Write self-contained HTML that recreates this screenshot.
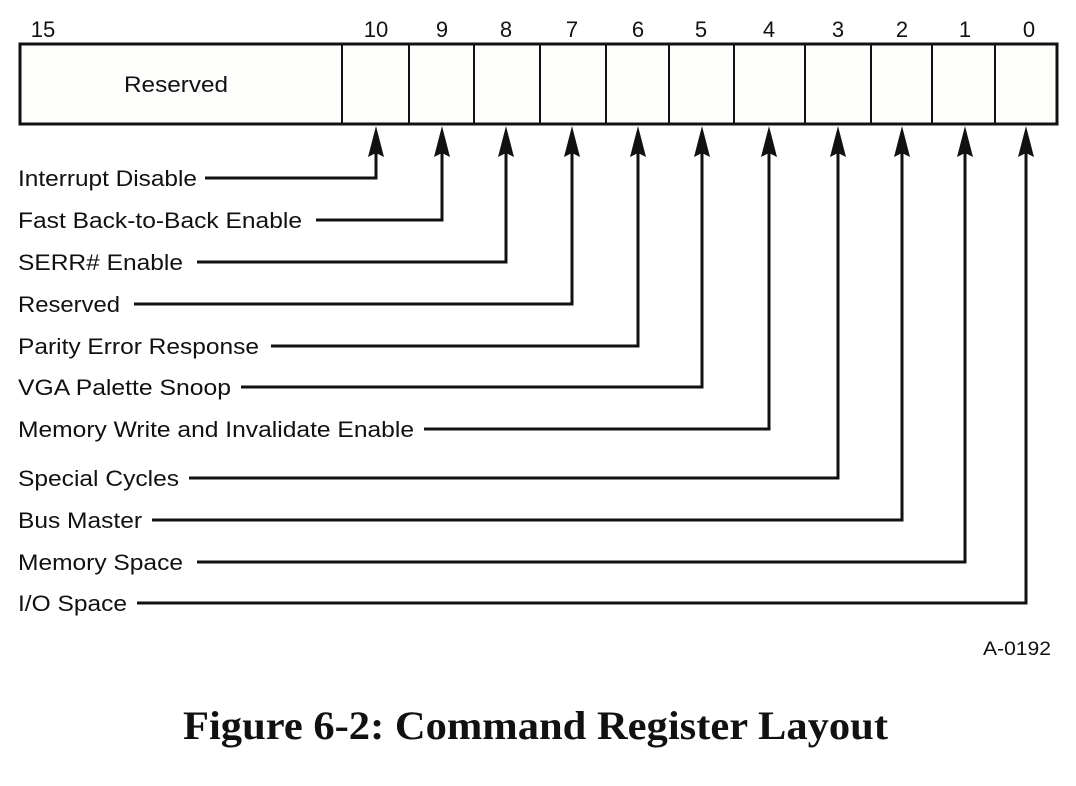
<!DOCTYPE html>
<html><head><meta charset="utf-8"><style>
body{margin:0;background:#fff;}
svg{display:block}
text{font-family:"Liberation Sans",sans-serif;font-size:22px;fill:#111}
</style></head><body>
<svg width="1076" height="786" viewBox="0 0 1076 786">
<rect x="20" y="44" width="1037" height="80" fill="#fdfdfb" stroke="#111" stroke-width="3"/>
<g stroke="#111" stroke-width="2">
<line x1="342" y1="44" x2="342" y2="124"/><line x1="409" y1="44" x2="409" y2="124"/>
<line x1="474" y1="44" x2="474" y2="124"/><line x1="540" y1="44" x2="540" y2="124"/>
<line x1="606" y1="44" x2="606" y2="124"/><line x1="669" y1="44" x2="669" y2="124"/>
<line x1="734" y1="44" x2="734" y2="124"/><line x1="805" y1="44" x2="805" y2="124"/>
<line x1="871" y1="44" x2="871" y2="124"/><line x1="932" y1="44" x2="932" y2="124"/>
<line x1="995" y1="44" x2="995" y2="124"/>
</g>
<text x="124" y="92" textLength="104" lengthAdjust="spacingAndGlyphs">Reserved</text>
<g text-anchor="middle">
<text x="43" y="37">15</text><text x="376" y="37">10</text><text x="442" y="37">9</text>
<text x="506" y="37">8</text><text x="572" y="37">7</text><text x="638" y="37">6</text>
<text x="701" y="37">5</text><text x="769" y="37">4</text><text x="838" y="37">3</text>
<text x="902" y="37">2</text><text x="965" y="37">1</text><text x="1029" y="37">0</text>
</g>
<g stroke="#111" stroke-width="3" fill="none">
<polyline points="205,178 376,178 376,150"/>
<polyline points="316,220 442,220 442,150"/>
<polyline points="197,262 506,262 506,150"/>
<polyline points="134,304 572,304 572,150"/>
<polyline points="271,346 638,346 638,150"/>
<polyline points="241,387 702,387 702,150"/>
<polyline points="424,429 769,429 769,150"/>
<polyline points="189,478 838,478 838,150"/>
<polyline points="152,520 902,520 902,150"/>
<polyline points="197,562 965,562 965,150"/>
<polyline points="137,603 1026,603 1026,150"/>
</g>
<g fill="#111">
<polygon points="376,126 368,157 376,153 384,157"/>
<polygon points="442,126 434,157 442,153 450,157"/>
<polygon points="506,126 498,157 506,153 514,157"/>
<polygon points="572,126 564,157 572,153 580,157"/>
<polygon points="638,126 630,157 638,153 646,157"/>
<polygon points="702,126 694,157 702,153 710,157"/>
<polygon points="769,126 761,157 769,153 777,157"/>
<polygon points="838,126 830,157 838,153 846,157"/>
<polygon points="902,126 894,157 902,153 910,157"/>
<polygon points="965,126 957,157 965,153 973,157"/>
<polygon points="1026,126 1018,157 1026,153 1034,157"/>
</g>
<g style="" >
<text x="18" y="186" textLength="179" lengthAdjust="spacingAndGlyphs">Interrupt Disable</text>
<text x="18" y="228" textLength="284" lengthAdjust="spacingAndGlyphs">Fast Back-to-Back Enable</text>
<text x="18" y="270" textLength="165" lengthAdjust="spacingAndGlyphs">SERR# Enable</text>
<text x="18" y="312" textLength="102" lengthAdjust="spacingAndGlyphs">Reserved</text>
<text x="18" y="354" textLength="241" lengthAdjust="spacingAndGlyphs">Parity Error Response</text>
<text x="18" y="395" textLength="213" lengthAdjust="spacingAndGlyphs">VGA Palette Snoop</text>
<text x="18" y="437" textLength="396" lengthAdjust="spacingAndGlyphs">Memory Write and Invalidate Enable</text>
<text x="18" y="486" textLength="161" lengthAdjust="spacingAndGlyphs">Special Cycles</text>
<text x="18" y="528" textLength="124" lengthAdjust="spacingAndGlyphs">Bus Master</text>
<text x="18" y="570" textLength="165" lengthAdjust="spacingAndGlyphs">Memory Space</text>
<text x="18" y="611" textLength="109" lengthAdjust="spacingAndGlyphs">I/O Space</text>
</g>
<text x="983" y="655" textLength="68" lengthAdjust="spacingAndGlyphs" style="font-size:19px">A-0192</text>
<text x="183" y="739" textLength="705" lengthAdjust="spacingAndGlyphs" style="font-family:'Liberation Serif',serif;font-weight:bold;font-size:40px">Figure 6-2:  Command Register Layout</text>
</svg>
</body></html>
